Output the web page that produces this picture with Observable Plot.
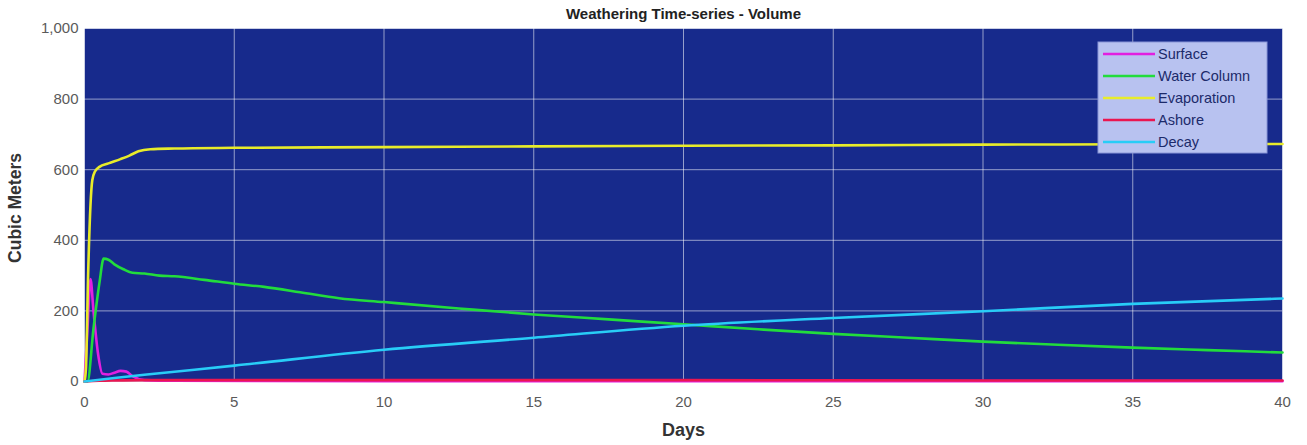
<!DOCTYPE html>
<html>
<head>
<meta charset="utf-8">
<script src="https://cdn.jsdelivr.net/npm/d3@7"></script>
<script src="https://cdn.jsdelivr.net/npm/@observablehq/plot@0.6"></script>
<style>
  html, body { margin: 0; padding: 0; background: #fff; }
  #chart { position: relative; width: 1307px; height: 445px; }
  svg { font-family: "Liberation Sans", Arial, sans-serif; }
</style>
</head>
<body>
<div id="chart"></div>
<script>
// ---- Data ----
const seriesNames = ["Surface", "Water Column", "Evaporation", "Ashore", "Decay"];
const seriesColors = ["#e21fe0", "#22dc3c", "#e8ec2a", "#ea1650", "#28cdf7"];

const surfaceDays   = [0, 0.1, 0.2, 0.3, 0.45, 0.6, 0.8, 1.0, 1.2, 1.4, 1.6, 2.0, 3, 10, 20, 40];
const surfaceVals   = [0, 150, 290, 200, 80, 22, 20, 25, 30, 28, 15, 4, 2, 1, 1, 1];

const waterDays     = [0, 0.1, 0.3, 0.5, 0.64, 0.8, 1.0, 1.3, 1.6, 2.0, 2.5, 3, 4, 5, 6, 7.2, 8.5, 10, 12.5, 15, 17.5, 20, 22.5, 25, 27.5, 30, 32.5, 35, 37.5, 40];
const waterVals     = [0, 0, 150, 280, 348, 345, 332, 318, 308, 306, 300, 298, 288, 277, 268, 253, 236, 225, 207, 190, 176, 162, 148, 135, 124, 113, 104, 96, 89, 82];

const evapDays      = [0, 0.05, 0.12, 0.2, 0.26, 0.35, 0.5, 0.8, 1.2, 1.5, 1.8, 2.2, 3, 5, 10, 15, 20, 25, 30, 35, 40];
const evapVals      = [0, 40, 300, 500, 570, 595, 608, 618, 630, 640, 652, 658, 660, 662, 664, 666, 668, 669, 671, 672, 673];

const ashoreDays    = [0, 0.5, 1, 2, 5, 10, 20, 30, 40];
const ashoreVals    = [0, 2, 3, 4, 4, 4, 4, 3, 3];

const decayDays     = [0, 1, 2, 5, 10, 15, 20, 25, 30, 35, 40];
const decayVals     = [0, 10, 19, 45, 90, 124, 158, 180, 199, 220, 235];

const xTicks = [0, 5, 10, 15, 20, 25, 30, 35, 40];
const yTicks = [0, 200, 400, 600, 800, 1000];

// ---- Build a long table ----
const seriesDays = [surfaceDays, waterDays, evapDays, ashoreDays, decayDays];
const seriesVals = [surfaceVals, waterVals, evapVals, ashoreVals, decayVals];
const rows = [];
seriesNames.forEach((name, i) => {
  seriesDays[i].forEach((d, j) => rows.push({series: name, day: d, value: seriesVals[i][j]}));
});

const fmt = d3.format(",");

const plot = Plot.plot({
  width: 1307,
  height: 445,
  marginLeft: 84,
  marginRight: 25,
  marginTop: 28,
  marginBottom: 64,
  style: {fontFamily: "Liberation Sans, Arial, sans-serif", fontSize: "15px", color: "#555", background: "#fff"},
  x: {domain: [0, 40], ticks: xTicks, tickSize: 0, label: null},
  y: {domain: [0, 1000], ticks: yTicks, tickSize: 0, tickFormat: fmt, label: null},
  color: {domain: seriesNames, range: seriesColors},
  marks: [
    Plot.frame({fill: "#172a8c", stroke: null}),
    Plot.gridX(xTicks, {stroke: "#ffffff", strokeOpacity: 0.55, strokeWidth: 1}),
    Plot.gridY(yTicks, {stroke: "#ffffff", strokeOpacity: 0.55, strokeWidth: 1}),
    Plot.line(rows, {x: "day", y: "value", z: "series", stroke: "series", strokeWidth: 2.6, curve: "monotone-x"}),
    Plot.axisX(xTicks, {tickSize: 0, tickPadding: 15, fontSize: 15, fill: "#5a5a5a", label: null}),
    Plot.axisY(yTicks, {tickSize: 0, tickPadding: 6, tickFormat: fmt, fontSize: 15, fill: "#5a5a5a", label: null}),
    Plot.text(["Weathering Time-series - Volume"], {frameAnchor: "top", lineAnchor: "middle", dy: -14, fontWeight: "bold", fontSize: 15, fill: "#222"}),
    Plot.text(["Days"], {frameAnchor: "bottom", lineAnchor: "middle", dy: 49, fontWeight: "bold", fontSize: 18, fill: "#333"}),
    Plot.text(["Cubic Meters"], {frameAnchor: "left", textAnchor: "middle", lineAnchor: "middle", dx: -69, dy: 3, rotate: -90, fontWeight: "bold", fontSize: 17.5, fill: "#333"})
  ]
});

document.getElementById("chart").appendChild(plot);

// ---- Legend box (top-right inside plot) ----
const svg = d3.select(plot);
const lg = svg.append("g").attr("transform", "translate(1098,42)");
lg.append("rect").attr("width", 169).attr("height", 111)
  .attr("fill", "#b8c2f0").attr("stroke", "#8a96d8").attr("stroke-width", 1);
seriesNames.forEach((name, i) => {
  const y = 12 + i * 22;
  lg.append("line").attr("x1", 5).attr("x2", 57).attr("y1", y).attr("y2", y)
    .attr("stroke", seriesColors[i]).attr("stroke-width", 2.6);
  lg.append("text").attr("x", 60).attr("y", y).attr("dy", "0.35em")
    .attr("text-anchor", "start")
    .attr("font-size", 14.5).attr("fill", "#1c2a6a")
    .attr("font-family", "Liberation Sans, Arial, sans-serif").text(name);
});
</script>
</body>
</html>
